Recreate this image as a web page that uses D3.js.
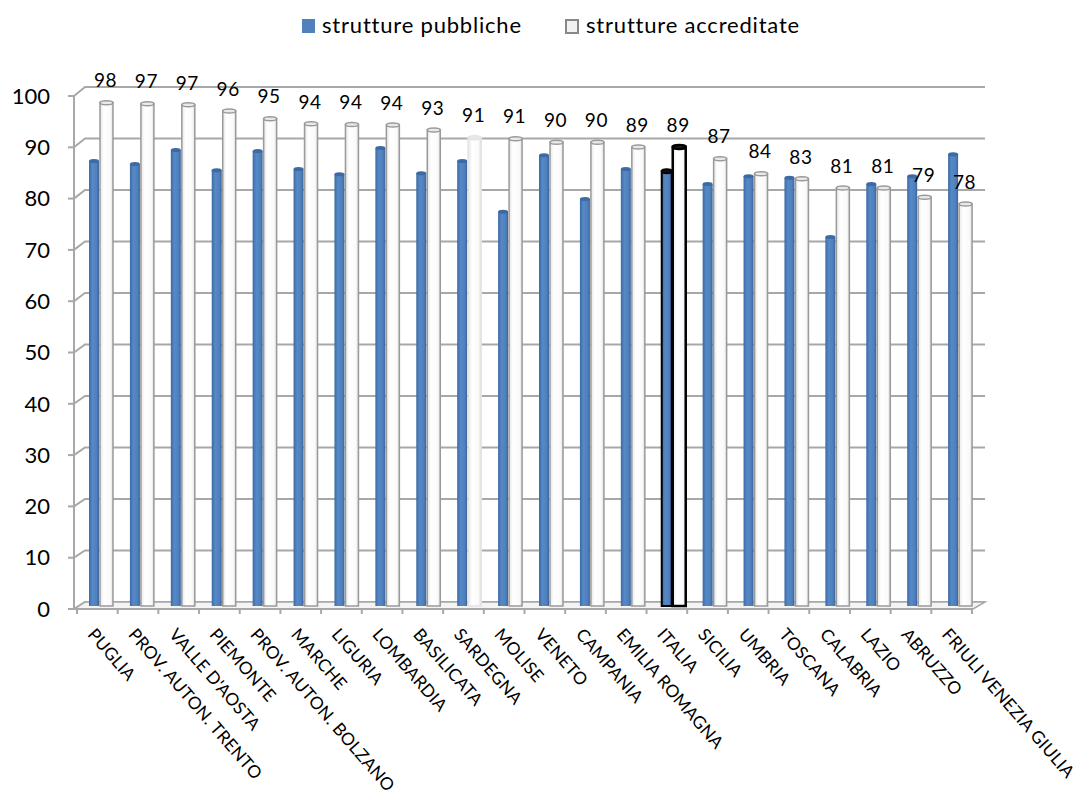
<!DOCTYPE html>
<html><head><meta charset="utf-8">
<script src="https://cdn.jsdelivr.net/npm/d3@7/dist/d3.min.js"></script>
<style>
html,body{margin:0;padding:0;background:#fff;}
svg{display:block;font-family:Lato,"Open Sans",sans-serif;}
</style></head><body>
<svg id="chart" width="1083" height="801"></svg>
<script>
const categories = ["PUGLIA","PROV. AUTON. TRENTO","VALLE D'AOSTA","PIEMONTE","PROV. AUTON. BOLZANO","MARCHE","LIGURIA","LOMBARDIA","BASILICATA","SARDEGNA","MOLISE","VENETO","CAMPANIA","EMILIA ROMAGNA","ITALIA","SICILIA","UMBRIA","TOSCANA","CALABRIA","LAZIO","ABRUZZO","FRIULI VENEZIA GIULIA"];
const pubbliche = [86.6,86.0,88.7,84.8,88.5,85.0,84.0,89.1,84.2,86.6,76.7,87.7,79.2,85.0,84.6,82.1,83.6,83.3,71.8,82.1,83.6,87.9];
const accreditate = [97.9,97.7,97.5,96.3,94.8,93.8,93.7,93.6,92.6,91.1,90.9,90.2,90.2,89.3,89.3,87.0,84.1,83.1,81.3,81.3,79.5,78.2];
const accreditateLabels = ["98","97","97","96","95","94","94","94","93","91","91","90","90","89","89","87","84","83","81","81","79","78"];
const yTicks = [0,10,20,30,40,50,60,70,80,90,100];
const seriesNames = ["strutture pubbliche","strutture accreditate"];

const svg = d3.select("#chart");
const defs = svg.append("defs");

const gb = defs.append("linearGradient").attr("id","gBlue").attr("x1","0").attr("x2","1");
gb.append("stop").attr("offset","0").attr("stop-color","#3d6aa3");
gb.append("stop").attr("offset","0.35").attr("stop-color","#5689c8");
gb.append("stop").attr("offset","0.75").attr("stop-color","#4f80bd");
gb.append("stop").attr("offset","1").attr("stop-color","#3a659c");
const gw = defs.append("linearGradient").attr("id","gWhite").attr("x1","0").attr("x2","1");
gw.append("stop").attr("offset","0").attr("stop-color","#e6e6e6");
gw.append("stop").attr("offset","0.3").attr("stop-color","#ffffff");
gw.append("stop").attr("offset","0.8").attr("stop-color","#fafafa");
gw.append("stop").attr("offset","1").attr("stop-color","#dcdcdc");

const frontX = 74, backX = 85, rightBack = 985, rightFront = 973;
const yFront = d3.scaleLinear().domain([0,100]).range([609,96]);
const yBack = d3.scaleLinear().domain([0,100]).range([602,87]);
const yBar = d3.scaleLinear().domain([0,100]).range([606,92]);
const xTick = d3.scaleBand().domain(categories).range([77,972]);
const xBar = d3.scaleBand().domain(categories).range([78,978]);

const grid = svg.append("g");
grid.selectAll("path.grid").data(yTicks).join("path")
  .attr("fill","none").attr("stroke","#a8a8a8").attr("stroke-width",2)
  .attr("d", v => `M${frontX},${yFront(v)}L${backX},${yBack(v)}L${rightBack},${yBack(v)}`);

grid.append("path").attr("fill","#f4f4f4").attr("stroke","#a8a8a8").attr("stroke-width",1.5)
  .attr("d", `M${frontX},${yFront(0)}L${backX},${yBack(0)}L${rightBack},${yBack(0)}L${rightFront},${yFront(0)}Z`);

grid.append("line").attr("x1",frontX).attr("x2",frontX).attr("y1",yFront(100)).attr("y2",yFront(0))
  .attr("stroke","#a8a8a8").attr("stroke-width",2);
grid.selectAll("line.yt").data(yTicks).join("line")
  .attr("x1",frontX-6).attr("x2",frontX).attr("y1",d=>yFront(d)).attr("y2",d=>yFront(d))
  .attr("stroke","#a8a8a8").attr("stroke-width",2);
grid.append("line").attr("x1",frontX-4).attr("x2",rightFront).attr("y1",yFront(0)).attr("y2",yFront(0))
  .attr("stroke","#a8a8a8").attr("stroke-width",2);
const tickPos = categories.map(c => xTick(c)).concat([xTick.range()[1]]);
grid.selectAll("line.xt").data(tickPos).join("line")
  .attr("x1",d=>d).attr("x2",d=>d).attr("y1",yFront(0)).attr("y2",yFront(0)+5)
  .attr("stroke","#a8a8a8").attr("stroke-width",2);

svg.append("g").selectAll("text").data(yTicks).join("text")
  .attr("x",50).attr("y",d=>yFront(d)).attr("dy","0.35em").attr("text-anchor","end")
  .attr("font-size",22).attr("fill","#000").text(d=>d);

const bw = 10, ww = 13, capH = 4;
const bars = svg.append("g");
categories.forEach((c,i) => {
  const isIt = c === "ITALIA";
  const isSard = c === "SARDEGNA";
  const bx = xBar(c) + 11;
  const by = yBar(pubbliche[i]);
  bars.append("rect").attr("x",bx).attr("y",by).attr("width",bw).attr("height",yBar(0)-by)
    .attr("fill","url(#gBlue)").attr("stroke",isIt?"#000":"none").attr("stroke-width",isIt?2:0);
  bars.append("ellipse").attr("cx",bx+bw/2).attr("cy",by).attr("rx",bw/2).attr("ry",capH/2)
    .attr("fill",isIt?"#111":"#3d6aa3").attr("stroke",isIt?"#000":"none").attr("stroke-width",isIt?2:0);
  const wx = xBar(c) + 22;
  const wy = yBar(accreditate[i]);
  const st = isIt ? "#000" : (isSard ? "#e4e4e4" : "#9a9a9a");
  const sw = isIt ? 2.5 : 1.5;
  bars.append("rect").attr("x",wx).attr("y",wy).attr("width",ww).attr("height",yBar(0)-wy)
    .attr("fill","url(#gWhite)").attr("stroke",st).attr("stroke-width",sw);
  bars.append("ellipse").attr("cx",wx+ww/2).attr("cy",wy).attr("rx",ww/2).attr("ry",capH/2)
    .attr("fill",isIt?"#222":"#e8e8e8").attr("stroke",st).attr("stroke-width",sw);
  bars.append("text").attr("x",wx+ww/2-1).attr("y",wy-22).attr("dy","0.35em")
    .attr("text-anchor","middle").attr("font-size",19).attr("letter-spacing",0.6).attr("fill","#000").text(accreditateLabels[i]);
});

svg.append("g").selectAll("text").data(categories).join("text")
  .attr("transform", c => `translate(${xTick(c)+xTick.bandwidth()/2-6},631) rotate(49)`)
  .attr("dy","0.35em").attr("font-size",17.3).attr("letter-spacing",0.2).attr("fill","#000").text(c=>c);

const lg = svg.append("g");
lg.append("rect").attr("x",302).attr("y",19).attr("width",13).attr("height",14).attr("fill","#4f81bd");
lg.append("text").attr("x",322).attr("y",33).attr("font-size",22).attr("letter-spacing",0.8).attr("fill","#000").text(seriesNames[0]);
lg.append("rect").attr("x",566).attr("y",20).attr("width",12).attr("height",13).attr("fill","#f2f2f2").attr("stroke","#888").attr("stroke-width",2);
lg.append("text").attr("x",586).attr("y",33).attr("font-size",22).attr("letter-spacing",0.8).attr("fill","#000").text(seriesNames[1]);
</script>
</body></html>
